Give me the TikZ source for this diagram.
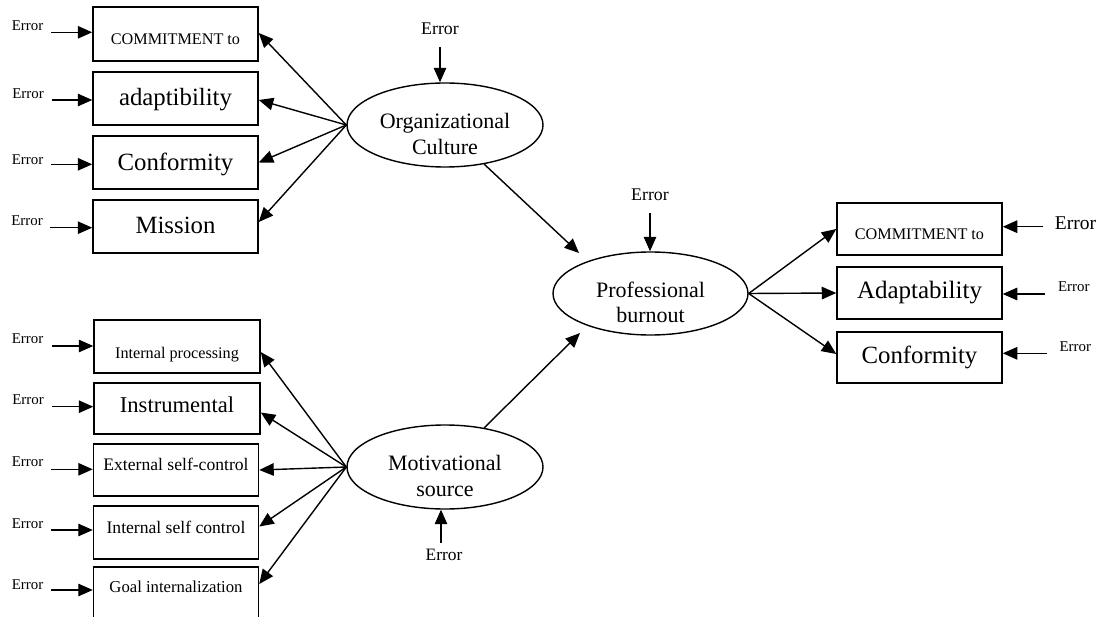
\documentclass[tikz,border=0pt]{standalone}
\usepackage{fontspec}
\setmainfont{Liberation Serif}
\usetikzlibrary{arrows.meta,shapes.geometric}
\tikzset{
  box/.style={draw, line width=1.5pt, minimum width=165pt, inner sep=0pt},
  lat/.style={draw, ellipse, line width=1.4pt, inner sep=0pt, minimum width=196pt, minimum height=84pt},
  arr/.style={line width=1.4pt, -{Triangle[length=14.5pt,width=12.5pt]}},
  err/.style={inner sep=0pt, font=\fontsize{14.9}{17}\selectfont},
  errbig/.style={inner sep=0pt, font=\fontsize{17.8}{20}\selectfont},
  ftbig/.style={inner sep=0pt, font=\fontsize{24.8}{29}\selectfont},
  ftsmall/.style={inner sep=0pt, font=\fontsize{16.2}{19}\selectfont},
  ftmid/.style={inner sep=0pt, font=\fontsize{17.6}{20}\selectfont},
  ftell/.style={inner sep=0pt, align=center, font=\fontsize{22}{25.7}\selectfont},
}
\begin{document}
\begin{tikzpicture}[x=1pt,y=-1pt]
\useasboundingbox (0,0) rectangle (1099,617);
\clip (0,0) rectangle (1099,617);

% latent variables
\node[lat, label={[ftell,yshift=-8.7pt]center:{Organizational\\Culture}}] (oc) at (445,125) {};
\node[lat, minimum width=195pt, minimum height=83pt, label={[ftell,yshift=-9pt]center:{Professional\\burnout}}] (pb) at (650.5,293.5) {};
\node[lat, label={[ftell,yshift=-9pt]center:{Motivational\\source}}] (mo) at (445,467) {};

% top-left boxes
\node[box, minimum height=54pt, label={[ftsmall,yshift=-5.3pt]center:COMMITMENT to}] (b1) at (175.5,34) {};
\node[box, minimum height=53pt, label={[ftbig,yshift=-1.5pt]center:adaptibility}] (b2) at (175.5,98.5) {};
\node[box, minimum height=53pt, label={[ftbig,yshift=-1.5pt]center:Conformity}] (b3) at (175.5,162.5) {};
\node[box, minimum height=53pt, label={[ftbig,yshift=1pt]center:Mission}] (b4) at (175.5,226.5) {};

% bottom-left boxes
\node[box, minimum width=166pt, minimum height=53pt, label={[ftsmall,yshift=-8.5pt]center:Internal processing}] (c1) at (177,346.5) {};
\node[box, minimum width=166pt, minimum height=51pt, label={[ftbig,font=\fontsize{22.6}{26}\selectfont,yshift=3.5pt]center:Instrumental}] (c2) at (177,408.5) {};
\node[box, minimum height=52pt, label={[ftmid,yshift=5.3pt]center:External self-control}] (c3) at (176,470) {};
\node[box, minimum height=53pt, label={[ftmid,yshift=5pt]center:Internal self control}] (c4) at (176,532.5) {};
\node[box, minimum height=53pt, label={[ftsmall,font=\fontsize{16.7}{19}\selectfont,yshift=6.5pt]center:Goal internalization}] (c5) at (176,593.5) {};

% right boxes
\node[box, minimum height=52pt, label={[ftsmall,yshift=-5.7pt]center:COMMITMENT to}] (r1) at (919.5,229) {};
\node[box, minimum height=52pt, label={[ftbig,font=\fontsize{25}{29}\selectfont]center:Adaptability}] (r2) at (919.5,293) {};
\node[box, minimum height=51pt, label={[ftbig,yshift=-0.3pt]center:Conformity}] (r3) at (919.5,357.5) {};

% error labels (left top)
\node[err] (e1) at (27.5,25.8) {Error};
\node[err] (e2) at (28,94) {Error};
\node[err] (e3) at (27.5,159.5) {Error};
\node[err] (e4) at (27,221) {Error};
% error labels (left bottom)
\node[err] (f1) at (27.5,338.7) {Error};
\node[err] (f2) at (28,400) {Error};
\node[err] (f3) at (27.5,461.7) {Error};
\node[err] (f4) at (27.5,523.3) {Error};
\node[err] (f5) at (27.5,584.7) {Error};
% error labels (right)
\node[inner sep=0pt, font=\fontsize{19.5}{22}\selectfont] (g1) at (1075.5,223.7) {Error};
\node[err] (g2) at (1073.8,286.7) {Error};
\node[err] (g3) at (1075.3,346.7) {Error};
% error labels (latents)
\node[errbig] (h1) at (440,28.3) {Error};
\node[errbig] (h2) at (650,195) {Error};
\node[errbig, font=\fontsize{17.4}{20}\selectfont] (h3) at (444,554.7) {Error};

% error arrow start points
\coordinate (se1) at (51,32.3);
\coordinate (se2) at (52,100);
\coordinate (se3) at (51,164.3);
\coordinate (se4) at (50,227.7);
\coordinate (sf1) at (52,346);
\coordinate (sf2) at (52,406.7);
\coordinate (sf3) at (51,469.3);
\coordinate (sf4) at (51,530);
\coordinate (sf5) at (51,590);
\coordinate (sg1) at (1043.3,226.7);
\coordinate (sg2) at (1045,294);
\coordinate (sg3) at (1046.7,353.3);
\coordinate (sh1) at (440,47);
\coordinate (sh2) at (650,212.7);
\coordinate (sh3) at (441,543);

\draw[arr] (se1) -- (se1 -| b1.west);
\draw[arr] (se2) -- (se2 -| b2.west);
\draw[arr] (se3) -- (se3 -| b3.west);
\draw[arr] (se4) -- (se4 -| b4.west);
\draw[arr] (sf1) -- (sf1 -| c1.west);
\draw[arr] (sf2) -- (sf2 -| c2.west);
\draw[arr] (sf3) -- (sf3 -| c3.west);
\draw[arr] (sf4) -- (sf4 -| c4.west);
\draw[arr] (sf5) -- (sf5 -| c5.west);
\draw[arr] (sg1) -- (sg1 -| r1.east);
\draw[arr] (sg2) -- (sg2 -| r2.east);
\draw[arr] (sg3) -- (sg3 -| r3.east);
\draw[arr] (sh1) -- (sh1 |- oc.north);
\draw[arr] (sh2) -- (sh2 |- pb.north);
\draw[arr] (sh3) -- (sh3 |- mo.south);

% latent to indicators
\draw[arr] (oc.west) -- ([yshift=1pt]b1.east);
\draw[arr] (oc.west) -- ([yshift=-1.5pt]b2.east);
\draw[arr] (oc.west) -- (b3.east);
\draw[arr] (oc.west) -- ([yshift=4.5pt]b4.east);

\draw[arr] (mo.west) -- ([yshift=-5.5pt]c1.east);
\draw[arr] (mo.west) -- ([yshift=-4pt]c2.east);
\draw[arr] (mo.west) -- (c3.east);
\draw[arr] (mo.west) -- ([yshift=6pt]c4.east);
\draw[arr] (mo.west) -- ([yshift=9.5pt]c5.east);

\draw[arr] (pb.east) -- (r1.west);
\draw[arr] (pb.east) -- (r2.west);
\draw[arr] (pb.east) -- ([yshift=3.5pt]r3.west);

% structural paths
\coordinate (pin1) at (579,253);
\coordinate (pin2) at (580,333);
\draw[arr] (oc.-45) -- (pin1);
\draw[arr] (mo.45) -- (pin2);
\end{tikzpicture}
\end{document}
